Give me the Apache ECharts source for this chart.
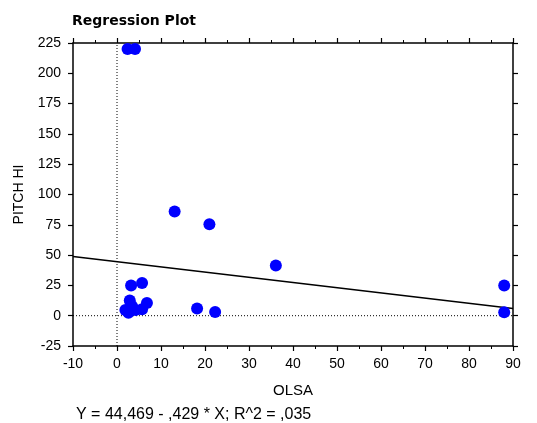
<!DOCTYPE html>
<html><head><meta charset="utf-8">
<script src="https://cdn.jsdelivr.net/npm/echarts@6/dist/echarts.min.js"></script>
<style>html,body{margin:0;padding:0;background:#fff}#c{width:537px;height:423px}</style>
</head><body><div id="c"></div>
<script>
const olsa = [2.4, 4.1, 13.1, 21.0, 36.1, 3.2, 5.7, 2.9, 6.8, 3.4, 1.9, 2.6, 4.2, 5.7, 18.2, 22.3, 88, 88];
const pitchHi = [220, 220, 86, 75.5, 41.5, 25, 27, 12.5, 10.5, 8, 4.7, 2.5, 4.7, 5.3, 6, 3, 25, 2.8];
const intercept = 44.469, slope = -0.429;
const xRange = [-10, 90];
const yRange = [-25, 225];
const titleText = 'Regression Plot';
const xName = 'OLSA', yName = 'PITCH HI';
const footer = 'Y = 44,469 - ,429 * X; R^2 = ,035';

const font = 'Liberation Sans, Arial, sans-serif';
const chart = echarts.init(document.getElementById('c'), null, {renderer: 'canvas'});
const pts = olsa.map((x, i) => [x, pitchHi[i]]);
const reg = xRange.map(x => [x, intercept + slope * x]);
const axisLine = {show: true, onZero: false, lineStyle: {color: '#000', width: 1.5}};
const tick = {show: true, length: 5, lineStyle: {color: '#000', width: 1.2}};
chart.setOption({
  animation: false,
  backgroundColor: '#fff',
  title: [
    {text: titleText, left: 67, top: 9, textStyle: {fontFamily: 'DejaVu Sans', fontSize: 14, fontWeight: 'bold', color: '#000'}},
    {text: footer, left: 71, top: 402, textStyle: {fontFamily: font, fontSize: 16, fontWeight: 'normal', color: '#000'}}
  ],
  grid: {left: 73, right: 24, top: 43, bottom: 77, containLabel: false},
  xAxis: [
    {type: 'value', min: xRange[0], max: xRange[1], interval: 10, position: 'bottom',
     name: xName, nameLocation: 'middle', nameGap: 37, nameTextStyle: {fontFamily: font, fontSize: 15, color: '#000'},
     axisLine: axisLine, axisTick: tick,
     minorTick: {show: true, splitNumber: 2, length: 3, lineStyle: {color: '#000'}},
     axisLabel: {fontFamily: font, fontSize: 14, color: '#000', margin: 11},
     splitLine: {show: false}, minorSplitLine: {show: false}},
    {type: 'value', min: xRange[0], max: xRange[1], interval: 10, position: 'top',
     axisLine: axisLine, axisTick: tick,
     minorTick: {show: true, splitNumber: 2, length: 3, lineStyle: {color: '#000'}},
     axisLabel: {show: false}, splitLine: {show: false}}
  ],
  yAxis: [
    {type: 'value', min: yRange[0], max: yRange[1], interval: 25, position: 'left',
     name: yName, nameLocation: 'middle', nameGap: 47, nameRotate: 90,
     nameTextStyle: {fontFamily: font, fontSize: 14, color: '#000'},
     axisLine: axisLine, axisTick: tick,
     axisLabel: {fontFamily: font, fontSize: 14, color: '#000', margin: 12},
     splitLine: {show: false}},
    {type: 'value', min: yRange[0], max: yRange[1], interval: 25, position: 'right',
     axisLine: axisLine, axisTick: tick,
     axisLabel: {show: false}, splitLine: {show: false}}
  ],
  series: [
    {type: 'line', data: [[0, yRange[0]], [0, yRange[1]]], symbol: 'none', silent: true,
     lineStyle: {color: '#000', width: 1, type: [1, 2]}, z: 2},
    {type: 'line', data: [[xRange[0], 0], [xRange[1], 0]], symbol: 'none', silent: true,
     lineStyle: {color: '#000', width: 1, type: [1, 2]}, z: 2},
    {type: 'line', data: reg, symbol: 'none', lineStyle: {color: '#000', width: 1.5}, z: 3},
    {type: 'scatter', data: pts, symbol: 'circle', symbolSize: 12,
     itemStyle: {color: '#0000ff', opacity: 1}, z: 4}
  ]
});
</script></body></html>
